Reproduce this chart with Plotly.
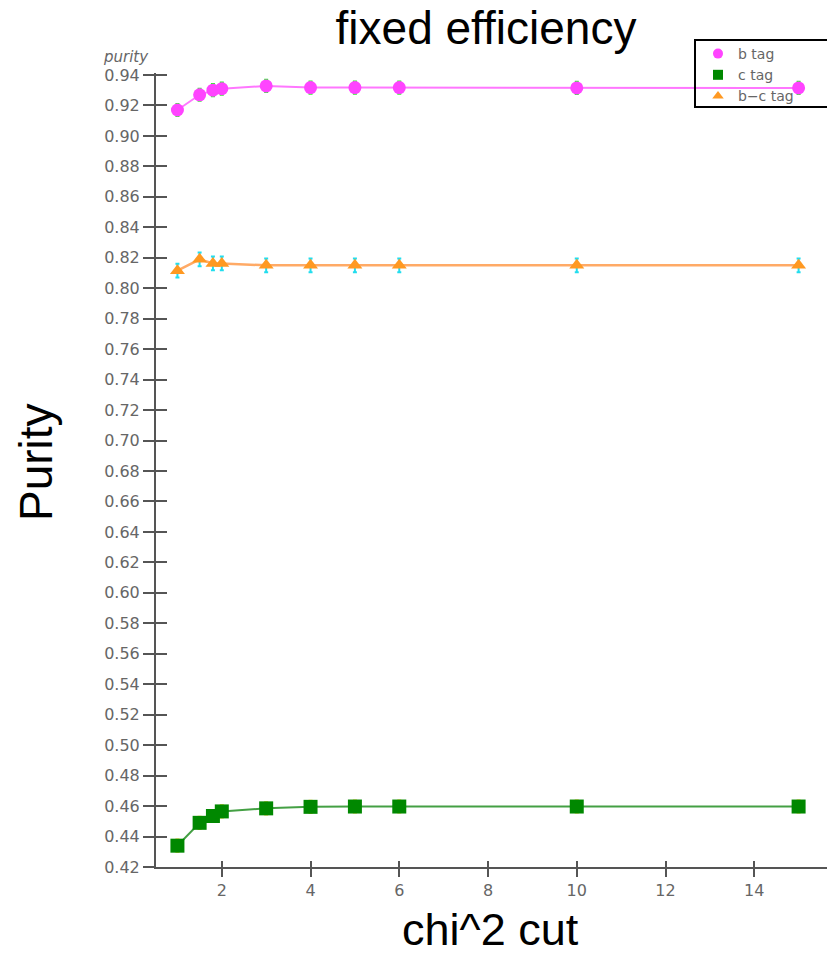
import plotly.graph_objects as go

# ---- data ----
chi2_cut = [1, 1.5, 1.8, 2, 3, 4, 5, 6, 10, 15]
purity_b = [0.917, 0.927, 0.930, 0.931, 0.9328, 0.9317, 0.9317, 0.9317, 0.9315, 0.9315]
err_b = [0.004] * 10
purity_c = [0.434, 0.449, 0.4535, 0.4565, 0.4585, 0.4595, 0.4597, 0.4597, 0.4597, 0.4597]
err_c = [0.004] * 10
purity_bc = [0.8115, 0.819, 0.8163, 0.8163, 0.815, 0.815, 0.815, 0.815, 0.815, 0.815]
err_bc = [0.0045] * 10

series_names = ["b tag", "c tag", "b\u2212c tag"]
y_ticks = [round(0.42 + 0.02 * i, 2) for i in range(27)]
x_ticks = [2, 4, 6, 8, 10, 12, 14]

XR = [0.517, 15.64]
YR = [0.42, 0.9413]

W, H = 827, 956
L, R, T, B = 156, 0, 73, 89
pw, ph = W - L - R, H - T - B
def px(x): return (x - L) / pw
def py(y): return (H - B - y) / ph

styles = [
    dict(line=dict(color="#ff77ff", width=2),
         marker=dict(symbol="circle", size=13, color="#ff44ff"), err="#33ee33"),
    dict(line=dict(color="#44a044", width=2),
         marker=dict(symbol="square", size=14, color="#008800"), err="#ffd21f"),
    dict(line=dict(color="#ffaa66", width=2.5),
         marker=dict(symbol="triangle-up", size=13, color="#ff9922"), err="#22ddee"),
]
ys = [purity_b, purity_c, purity_bc]
errs = [err_b, err_c, err_bc]

fig = go.Figure()
for name, y, e, st in zip(series_names, ys, errs, styles):
    fig.add_trace(go.Scatter(
        x=chi2_cut, y=y, name=name, mode="lines+markers", showlegend=False,
        line=st["line"], marker=st["marker"],
        error_y=dict(type="data", array=e, color=st["err"], thickness=2, width=2),
    ))
# legend entries (markers only)
for name, st in zip(series_names, styles):
    m = dict(st["marker"])
    m["size"] = 10
    fig.add_trace(go.Scatter(x=[None], y=[None], name=name, mode="markers", marker=m))

# empty trace to activate the overlay axes (inside half of the crossing ticks)
fig.add_trace(go.Scatter(x=[], y=[], xaxis="x2", yaxis="y2", showlegend=False, hoverinfo="skip"))

tickfont = dict(family="DejaVu Sans", size=16, color="#666666")
bigfont = dict(size=46, color="black", family="Liberation Sans, Arial")

fig.update_layout(
    width=W, height=H,
    margin=dict(l=L, r=R, t=T, b=B),
    paper_bgcolor="white", plot_bgcolor="white",
    font=dict(family="Liberation Sans, Arial, sans-serif"),
    title=dict(text="fixed efficiency", x=486 / W, xanchor="center",
               y=1 - 28 / H, yanchor="middle", yref="container", font=bigfont),
    xaxis=dict(range=XR, tickvals=x_ticks, ticktext=[str(v) for v in x_ticks],
               ticks="outside", ticklen=8, tickwidth=2, tickcolor="#555555",
               showline=True, linecolor="#555555", linewidth=2,
               showgrid=False, zeroline=False, tickfont=tickfont),
    yaxis=dict(range=YR, tickvals=y_ticks, ticktext=[f"{v:.2f}" for v in y_ticks],
               ticks="outside", ticklen=11, tickwidth=2, tickcolor="#555555",
               showline=True, linecolor="#555555", linewidth=2,
               showgrid=False, zeroline=False, tickfont=tickfont),
    xaxis2=dict(range=XR, overlaying="x", anchor="y2", tickvals=x_ticks,
                ticks="inside", ticklen=6, tickwidth=2, tickcolor="#555555",
                showticklabels=False, showline=False, showgrid=False, zeroline=False),
    yaxis2=dict(range=YR, overlaying="y", anchor="x2", tickvals=y_ticks,
                ticks="inside", ticklen=11, tickwidth=2, tickcolor="#555555",
                showticklabels=False, showline=False, showgrid=False, zeroline=False),
    legend=dict(x=px(698), y=py(38), xanchor="left", yanchor="top",
                bgcolor="rgba(0,0,0,0)", borderwidth=0,
                font=dict(family="DejaVu Sans", size=14, color="#666666"),
                itemwidth=30, tracegroupgap=0),
    shapes=[dict(type="rect", xref="paper", yref="paper",
                 x0=px(695), x1=px(835), y0=py(107), y1=py(40),
                 line=dict(color="black", width=2), fillcolor="rgba(0,0,0,0)", layer="above")],
    annotations=[
        dict(text="Purity", x=px(36), y=py(462), xref="paper", yref="paper",
             xanchor="center", yanchor="middle", showarrow=False, textangle=-90, font=bigfont),
        dict(text="chi^2 cut", x=px(490), y=py(929), xref="paper", yref="paper",
             xanchor="center", yanchor="middle", showarrow=False,
             font=dict(size=45, color="black", family="Liberation Sans, Arial")),
        dict(text="<i>purity</i>", x=px(126), y=py(57), xref="paper", yref="paper",
             xanchor="center", yanchor="middle", showarrow=False,
             font=dict(size=15, color="#666666", family="DejaVu Sans")),
    ],
)

fig.write_html("out.html")
